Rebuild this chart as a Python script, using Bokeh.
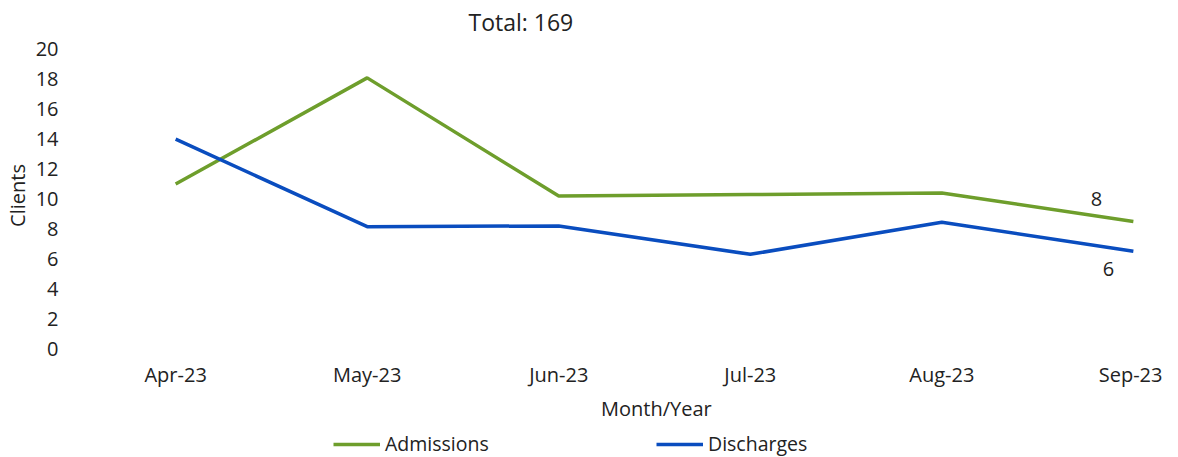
from bokeh.plotting import figure
from bokeh.models import Legend, LegendItem, ColumnDataSource, FixedTicker, Range1d, Label
from bokeh.layouts import column
from bokeh.embed import file_html
from bokeh.resources import INLINE
from bokeh.core.properties import value

months = ["Apr-23", "May-23", "Jun-23", "Jul-23", "Aug-23", "Sep-23"]
admissions = [11.0, 18.1, 10.2, 10.3, 10.4, 8.5]
discharges = [14.0, 8.15, 8.2, 6.3, 8.45, 6.5]
end_labels_adm = ["8"]
end_labels_dis = ["6"]
title_text = "Total: 169"
x_title = "Month/Year"
y_title = "Clients"
series_names = ["Admissions", "Discharges"]
y_ticks = list(range(0, 21, 2))

GREEN = "#6E9E2C"
BLUE = "#0A4DBF"
FONT = "Open Sans"
TXT = "#222222"
FS = "20px"

xs = list(range(len(months)))
src = ColumnDataSource(dict(x=xs, adm=admissions, dis=discharges))

xr = Range1d(-0.549, 5.126)

# ---- main chart ----
p = figure(width=1162, height=392, output_backend="svg", toolbar_location=None,
           x_range=xr, y_range=Range1d(-0.13, 20.6),
           min_border_left=64, min_border_right=5, min_border_top=40, min_border_bottom=42)
p.outline_line_color = None
p.grid.visible = False

p.title.text = title_text
p.title.align = "left"
p.title.offset = 398
p.title.standoff = 6
p.title.text_font = FONT
p.title.text_font_size = "23px"
p.title.text_font_style = "normal"
p.title.text_color = TXT

for ax in (p.xaxis[0], p.yaxis[0]):
    ax.axis_line_color = None
    ax.major_tick_line_color = None
    ax.minor_tick_line_color = None
    ax.major_tick_out = 0
    ax.major_tick_in = 0
    ax.minor_tick_out = 0
    ax.major_label_text_font = FONT
    ax.major_label_text_font_size = FS
    ax.major_label_text_color = TXT
    ax.axis_label_text_font = FONT
    ax.axis_label_text_font_style = "normal"
    ax.axis_label_text_font_size = FS
    ax.axis_label_text_color = TXT

p.xaxis.ticker = FixedTicker(ticks=xs)
p.xaxis.major_label_overrides = {i: m for i, m in enumerate(months)}
p.xaxis.major_label_standoff = 10
p.yaxis.ticker = FixedTicker(ticks=y_ticks)
p.yaxis.major_label_standoff = 12
p.yaxis.axis_label = y_title
p.yaxis.axis_label_standoff = 2

r1 = p.line("x", "adm", source=src, line_color=GREEN, line_width=3.5)
r2 = p.line("x", "dis", source=src, line_color=BLUE, line_width=3.5)

p.text(x=[xs[-1]], y=[admissions[-1]], text=end_labels_adm, x_offset=-37, y_offset=-22,
       text_font=value(FONT), text_font_size=FS, text_color=TXT,
       text_align="center", text_baseline="middle")
p.text(x=[xs[-1]], y=[discharges[-1]], text=end_labels_dis, x_offset=-25, y_offset=18,
       text_font=value(FONT), text_font_size=FS, text_color=TXT,
       text_align="center", text_baseline="middle")

# ---- strip below: axis title and legend ----
p2 = figure(width=1162, height=65, output_backend="svg", toolbar_location=None,
            x_range=xr, y_range=Range1d(100, 165),
            x_axis_type=None, y_axis_type=None,
            min_border_left=64, min_border_right=5, min_border_top=0, min_border_bottom=0)
p2.outline_line_color = None
p2.grid.visible = False
# legend swatches only (their data lie outside this strip's vertical range)
l1 = p2.line("x", "adm", source=src, line_color=GREEN, line_width=3.5)
l2 = p2.line("x", "dis", source=src, line_color=BLUE, line_width=3.5)

p2.add_layout(Label(x=2.51, y=149, text=x_title, text_font=FONT, text_font_size=FS,
                    text_color=TXT, text_align="center", text_baseline="middle"))

legend = Legend(items=[LegendItem(label=series_names[0], renderers=[l1]),
                       LegendItem(label=series_names[1], renderers=[l2])],
                location=(263, 0), orientation="horizontal",
                spacing=151, padding=0, margin=0, glyph_width=47, glyph_height=18,
                label_width=120, label_standoff=5, border_line_color=None,
                background_fill_alpha=0,
                label_text_font=FONT, label_text_font_size="19.5px", label_text_color=TXT)
p2.add_layout(legend, "center")

open("out.html", "w").write(file_html(column(p, p2, spacing=0), INLINE))
